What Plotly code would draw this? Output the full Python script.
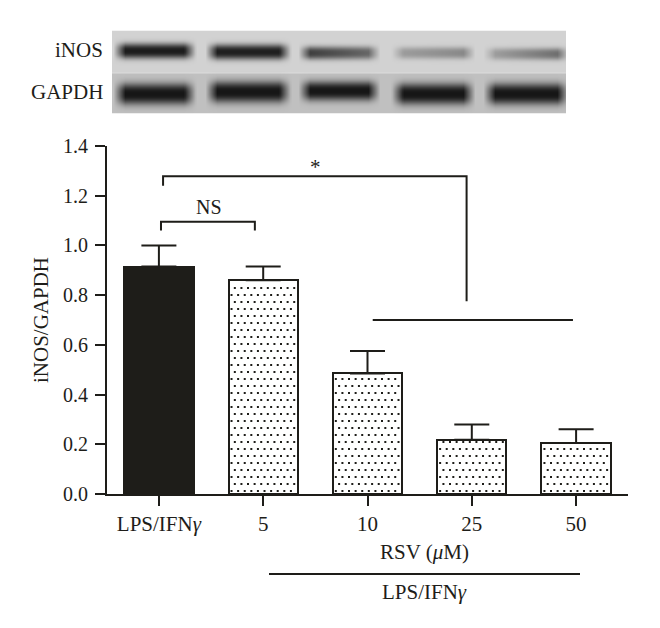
import numpy as np
import plotly.graph_objects as go

# ---- chart data ----
categories = ["LPS/IFN<i>γ</i>", "5", "10", "25", "50"]
mean_values = [0.915, 0.86, 0.485, 0.218, 0.205]
error_upper = [0.085, 0.055, 0.09, 0.062, 0.055]
y_ticks = [0.0, 0.2, 0.4, 0.6, 0.8, 1.0, 1.2, 1.4]

# significance brackets (category position, value)
star_x = [0.04, 0.04, 2.95, 2.95]
star_y = [1.24, 1.278, 1.278, 0.775]
ns_x = [0.02, 0.02, 0.92, 0.92]
ns_y = [1.06, 1.095, 1.095, 1.06]
group_x = [2.05, 3.97]
group_y = [0.70, 0.70]

# ---- western blot ----
lane_start = [118, 210, 304, 397, 490]
lane_end = [189, 285, 374, 470, 564]
inos_left = [0.97, 0.95, 0.80, 0.28, 0.26]
inos_right = [0.97, 0.95, 0.55, 0.40, 0.55]
inos_center = [50, 51, 52, 52, 53]
inos_half = [7.5, 7.5, 6.5, 6, 6]
gapdh_left = [1.0, 1.0, 1.0, 1.0, 1.0]
gapdh_right = [1.0, 1.0, 1.0, 1.0, 1.0]
gapdh_center = [93, 91, 90, 93, 93]
gapdh_half = [10.5, 10.5, 9.5, 10.5, 10.5]

INK = "#1e1d19"
FONT = "Liberation Serif"


def band_layer(px, py, starts, ends, left, right, centers, halves):
    out = np.zeros_like(px, dtype=float)
    for a, b, l, r, c, h in zip(starts, ends, left, right, centers, halves):
        s = l + (r - l) * np.clip((px - a) / (b - a), 0, 1)
        ex = np.clip((px - a + 6) / 12, 0, 1) * np.clip((b - px + 6) / 12, 0, 1)
        ey = np.exp(-np.abs((py - c) / h) ** 2.6)
        out = np.maximum(out, s * ex * ey)
    return out


blot_x = np.arange(112, 568, 2.0)
blot_y = np.arange(31, 114, 1.0)
gx, gy = np.meshgrid(blot_x, blot_y)
background = np.where(gy < 72, 210.0, 192.0)
background = np.where(np.abs(gy - 72) < 1.0, 220.0, background)
dark = np.maximum(
    band_layer(gx, gy, lane_start, lane_end, inos_left, inos_right, inos_center, inos_half),
    band_layer(gx, gy, lane_start, lane_end, gapdh_left, gapdh_right, gapdh_center, gapdh_half),
)
blot_z = background - (background - 22) * dark

bar_left = 107
plot_w = 521
plot_h = 348
x_lo, x_hi = -0.4976, 4.4976
px_per_cat = plot_w / (x_hi - x_lo)
px_per_val = plot_h / 1.4

fig = go.Figure()

# blot image
fig.add_trace(go.Heatmap(
    x=blot_x, y=blot_y, z=blot_z, xaxis="x2", yaxis="y2",
    colorscale=[[0, "#000000"], [1, "#ffffff"]], zmin=0, zmax=255,
    zsmooth="best", showscale=False, hoverinfo="skip",
))

xs = list(range(len(categories)))

# bars
fig.add_trace(go.Bar(
    x=xs, y=mean_values, width=0.665,
    marker=dict(color=[INK, "white", "white", "white", "white"],
                line=dict(color=INK, width=2)),
    error_y=dict(type="data", symmetric=False, array=error_upper,
                 arrayminus=[0] * 5, color=INK, thickness=2, width=17.5),
    showlegend=False, hoverinfo="skip",
))

# stipple fill of the four treated bars (staggered lattice clipped to each bar)
dot_x, dot_y = [], []
row_gap = 7 / px_per_val
col_gap = 6.6 / px_per_cat
half_w = 0.665 / 2 - 3 / px_per_cat
for i, v in zip(xs[1:], mean_values[1:]):
    r = 0
    y = 3 / px_per_val
    while y < v - 2 / px_per_val:
        off = (r % 2) * col_gap / 2
        x = -half_w + off
        while x <= half_w:
            dot_x.append(i + x)
            dot_y.append(y)
            x += col_gap
        y += row_gap
        r += 1
fig.add_trace(go.Scatter(
    x=dot_x, y=dot_y, mode="markers",
    marker=dict(symbol="square", size=2, color=INK, line=dict(width=0)),
    showlegend=False, hoverinfo="skip",
))

# brackets
for bx, by in ((star_x, star_y), (ns_x, ns_y), (group_x, group_y)):
    fig.add_trace(go.Scatter(
        x=bx, y=by, mode="lines",
        line=dict(color=INK, width=2), showlegend=False, hoverinfo="skip",
    ))


def note(text, xpx, ypx, size=21, **kw):
    fig.add_annotation(
        text=text, x=xpx / 660, y=1 - ypx / 628, xref="paper", yref="paper",
        showarrow=False, font=dict(family=FONT, size=size, color=INK), **kw)


fig.update_layout(
    width=660, height=628, autosize=False,
    margin=dict(l=0, r=0, t=0, b=0, pad=0, autoexpand=False),
    paper_bgcolor="white", plot_bgcolor="white",
    bargap=0, showlegend=False,
    xaxis=dict(
        domain=[bar_left / 660, (bar_left + plot_w) / 660],
        range=[x_lo, x_hi], tickmode="array", tickvals=xs, ticktext=categories,
        ticks="outside", ticklen=10, tickwidth=2, tickcolor=INK,
        showline=True, linecolor=INK, linewidth=2, showgrid=False, zeroline=False,
        tickfont=dict(family=FONT, size=21, color=INK),
        anchor="y",
    ),
    yaxis=dict(
        domain=[134 / 628, (134 + plot_h) / 628],
        range=[0, 1.4], tickmode="array", tickvals=y_ticks,
        ticktext=[f"{t:.1f}" for t in y_ticks],
        ticks="outside", ticklen=10, tickwidth=2, tickcolor=INK,
        showline=True, linecolor=INK, linewidth=2, showgrid=False, zeroline=False,
        tickfont=dict(family=FONT, size=20, color=INK), ticklabelstandoff=3,
        anchor="x",
    ),
    xaxis2=dict(domain=[112 / 660, 568 / 660], range=[111, 569], visible=False, anchor="y2"),
    yaxis2=dict(domain=[(628 - 113.5) / 628, (628 - 30.5) / 628], range=[113.5, 30.5],
                visible=False, anchor="x2"),
    shapes=[dict(type="line", xref="paper", yref="paper",
                 x0=269 / 660, x1=580 / 660, y0=1 - 574 / 628, y1=1 - 574 / 628,
                 line=dict(color=INK, width=2))],
)

note("iNOS", 105, 50, xanchor="right", yanchor="middle")
note("GAPDH", 105, 92, xanchor="right", yanchor="middle")
note("NS", 209, 207, size=20, xanchor="center", yanchor="middle")
note("*", 315, 167, xanchor="center", yanchor="middle")
note("RSV (<i>μ</i>M)", 424, 552, xanchor="center", yanchor="middle")
note("LPS/IFN<i>γ</i>", 424, 592, xanchor="center", yanchor="middle")
note("iNOS/GAPDH", 41, 320, textangle=-90, xanchor="center", yanchor="middle")

fig.write_html("out.html", config={"displayModeBar": False},
               post_script="document.body.style.margin='0';")
